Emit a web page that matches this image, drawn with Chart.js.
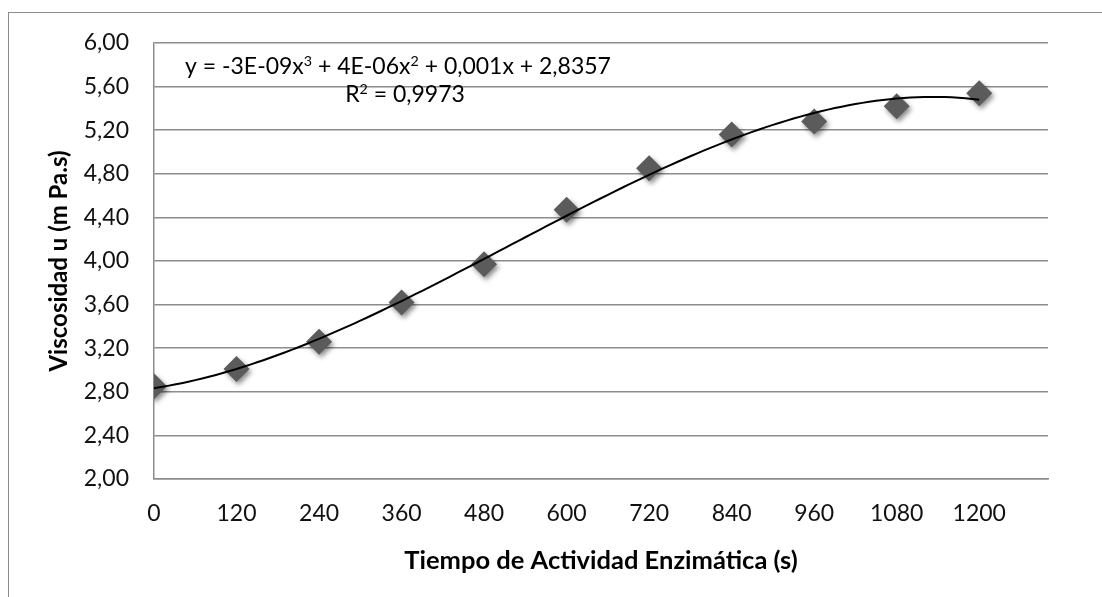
<!DOCTYPE html>
<html>
<head>
<meta charset="utf-8">
<script src="https://cdn.jsdelivr.net/npm/chart.js@4.4.1/dist/chart.umd.min.js"></script>
<style>
  html, body { margin: 0; padding: 0; background: #fff; }
  #wrap { position: relative; width: 1102px; height: 597px; overflow: hidden; }
  #frame { position: absolute; left: 8px; top: 12px; right: -4px; bottom: -4px;
           border-left: 1.5px solid #8c8c8c; border-top: 1.5px solid #8c8c8c; }
  #c { position: absolute; left: 0; top: 0; }
</style>
</head>
<body>
<div id="wrap">
  <div id="frame"></div>
  <canvas id="c" width="1102" height="597"></canvas>
</div>
<script>
// ---------- datos ----------
const tiempos = [0, 120, 240, 360, 480, 600, 720, 840, 960, 1080, 1200];
const viscosidad = [2.85, 3.01, 3.26, 3.62, 3.97, 4.47, 4.85, 5.16, 5.28, 5.42, 5.54];
const ticksX = [0, 120, 240, 360, 480, 600, 720, 840, 960, 1080, 1200];
const ticksY = [2.0, 2.4, 2.8, 3.2, 3.6, 4.0, 4.4, 4.8, 5.2, 5.6, 6.0];
const ecuacion = "y = -3E-09x³ + 4E-06x² + 0,001x + 2,8357";
const r2Texto = "R² = 0,9973";

const FONT = "Lato, 'Open Sans', sans-serif";
const GRIS = "#8c8c8c";

// ---------- ajuste polinómico (grado 3, mínimos cuadrados) ----------
function ajustePolinomio(xs, ys, grado) {
  const n = grado + 1;
  const A = Array.from({ length: n }, () => new Array(n + 1).fill(0));
  xs.forEach((x0, k) => {
    const x = x0 / 1000;
    for (let i = 0; i < n; i++) {
      for (let j = 0; j < n; j++) A[i][j] += Math.pow(x, i + j);
      A[i][n] += ys[k] * Math.pow(x, i);
    }
  });
  for (let c = 0; c < n; c++) {
    let p = c;
    for (let r = c + 1; r < n; r++) if (Math.abs(A[r][c]) > Math.abs(A[p][c])) p = r;
    [A[c], A[p]] = [A[p], A[c]];
    for (let r = 0; r < n; r++) {
      if (r === c) continue;
      const f = A[r][c] / A[c][c];
      for (let j = c; j <= n; j++) A[r][j] -= f * A[c][j];
    }
  }
  const coef = A.map((row, i) => row[n] / row[i]);
  return x => coef.reduce((acc, a, i) => acc + a * Math.pow(x / 1000, i), 0);
}

const tendencia = ajustePolinomio(tiempos, viscosidad, 3);
const curva = [];
for (let t = 0; t <= 1200; t += 10) curva.push({ x: t, y: tendencia(t) });

// ---------- plugins ----------
const sombraPuntos = {
  id: "sombraPuntos",
  beforeDatasetDraw(chart, args) {
    if (args.index !== 1) return;
    const ctx = chart.ctx;
    ctx.save();
    ctx.shadowColor = "rgba(0,0,0,0.45)";
    ctx.shadowBlur = 5;
    ctx.shadowOffsetX = 2;
    ctx.shadowOffsetY = 3;
  },
  afterDatasetDraw(chart, args) {
    if (args.index !== 1) return;
    chart.ctx.restore();
  }
};

// texto con superíndices (³, ²) dibujados más pequeños y elevados
const SUP = { "²": "2", "³": "3" };
function partes(texto) {
  const out = [];
  let buf = "";
  for (const ch of texto) {
    if (SUP[ch]) {
      if (buf) out.push({ t: buf, sup: false });
      out.push({ t: SUP[ch], sup: true });
      buf = "";
    } else buf += ch;
  }
  if (buf) out.push({ t: buf, sup: false });
  return out;
}
function anchoTexto(ctx, segs, size) {
  return segs.reduce((w, s) => {
    ctx.font = (s.sup ? size * 0.62 : size) + "px " + FONT;
    return w + ctx.measureText(s.t).width;
  }, 0);
}
function dibujaTexto(ctx, texto, x, y, size, align) {
  const segs = partes(texto);
  let cx = align === "center" ? x - anchoTexto(ctx, segs, size) / 2 : x;
  ctx.textAlign = "left";
  segs.forEach(s => {
    const fs = s.sup ? size * 0.62 : size;
    ctx.font = fs + "px " + FONT;
    ctx.fillText(s.t, cx, s.sup ? y - size * 0.36 : y);
    cx += ctx.measureText(s.t).width;
  });
}

const etiquetaEcuacion = {
  id: "etiquetaEcuacion",
  afterDraw(chart) {
    const ctx = chart.ctx;
    ctx.save();
    ctx.fillStyle = "#000";
    ctx.textBaseline = "alphabetic";
    dibujaTexto(ctx, ecuacion, 185, 74, 23, "left");
    dibujaTexto(ctx, r2Texto, 405, 102, 23, "center");
    ctx.restore();
  }
};

// ---------- gráfico ----------
const ctx = document.getElementById("c").getContext("2d");
new Chart(ctx, {
  type: "scatter",
  data: {
    datasets: [
      {
        label: "Polinómica",
        data: curva,
        showLine: true,
        pointRadius: 0,
        borderColor: "#000",
        borderWidth: 2,
        tension: 0,
        order: 0
      },
      {
        label: "Viscosidad",
        data: tiempos.map((t, i) => ({ x: t, y: viscosidad[i] })),
        pointStyle: "rectRot",
        pointRadius: 13,
        pointHoverRadius: 13,
        backgroundColor: "#5b5b5b",
        borderWidth: 0,
        order: 1
      }
    ]
  },
  options: {
    responsive: false,
    animation: false,
    devicePixelRatio: 1,
    layout: { padding: { left: 0, top: 43, right: 54, bottom: 0 } },
    plugins: { legend: { display: false }, tooltip: { enabled: false } },
    scales: {
      x: {
        type: "linear",
        min: 0,
        max: 1300,
        afterBuildTicks: s => { s.ticks = ticksX.map(v => ({ value: v })); },
        afterFit: s => { s.height = 118; },
        grid: { display: false, drawTicks: false },
        border: { display: true, color: GRIS, width: 1.5 },
        ticks: {
          padding: 21,
          maxRotation: 0,
          color: "#111",
          font: { family: FONT, size: 23 },
          callback: v => String(v)
        },
        title: {
          display: true,
          text: "Tiempo de Actividad Enzimática (s)",
          color: "#000",
          font: { family: FONT, size: 25.5, weight: "bold" },
          padding: { top: 0, bottom: 21 }
        }
      },
      y: {
        min: 2,
        max: 6,
        afterBuildTicks: s => { s.ticks = ticksY.map(v => ({ value: v })); },
        afterFit: s => { s.width = 154; },
        grid: { color: GRIS, lineWidth: 1.5, drawTicks: false },
        border: { display: true, color: GRIS, width: 1.5 },
        ticks: {
          padding: 25,
          color: "#111",
          font: { family: FONT, size: 23 },
          callback: v => v.toFixed(2).replace(".", ",")
        },
        title: {
          display: true,
          text: "Viscosidad u (m Pa.s)",
          color: "#000",
          font: { family: FONT, size: 24, weight: "bold" },
          padding: { top: 45, bottom: 0 }
        }
      }
    }
  },
  plugins: [sombraPuntos, etiquetaEcuacion]
});
</script>
</body>
</html>
